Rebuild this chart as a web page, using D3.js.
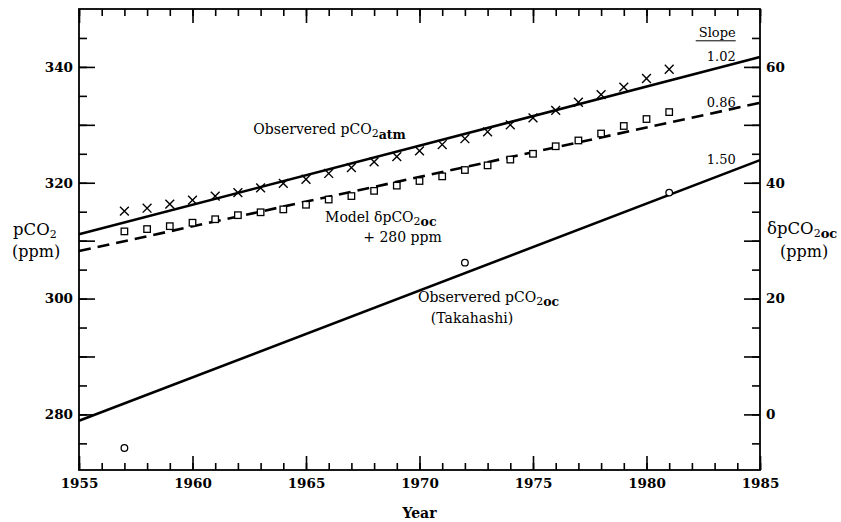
<!DOCTYPE html>
<html>
<head>
<meta charset="utf-8">
<script src="https://cdn.jsdelivr.net/npm/d3@7"></script>
<style>
  body { margin: 0; background: #fff; }
  text { font-family: "DejaVu Serif", serif; fill: #000; }
</style>
</head>
<body>
<div id="my_dataviz"></div>
<script>
// yearly points
var years = [1957, 1958, 1959, 1960, 1961, 1962, 1963, 1964, 1965, 1966, 1967, 1968, 1969,
             1970, 1971, 1972, 1973, 1974, 1975, 1976, 1977, 1978, 1979, 1980, 1981];
var atmObs = [315.1, 315.6, 316.3, 317.0, 317.7, 318.3, 319.1, 319.9, 320.6, 321.6, 322.6, 323.6, 324.5,
              325.5, 326.6, 327.6, 328.8, 330.0, 331.2, 332.5, 333.9, 335.2, 336.5, 338.0, 339.6];
var modelOc = [311.6, 312.0, 312.5, 313.1, 313.7, 314.4, 314.9, 315.4, 316.2, 317.1, 317.7, 318.6, 319.5,
               320.3, 321.1, 322.2, 323.0, 324.0, 325.0, 326.3, 327.3, 328.5, 329.8, 331.0, 332.2];
var takYears = [1957, 1972, 1981];
var takObs = [274.2, 306.2, 318.3];

// fitted lines, value at 1955 and at 1985
var fitNames = ["atm", "model", "tak"];
var fitStart = [311.1, 308.2, 278.9];
var fitEnd = [341.7, 333.8, 323.9];
var slopeLabels = ["1.02", "0.86", "1.50"];

var xTicksMajor = [1955, 1960, 1965, 1970, 1975, 1980, 1985];
var yLeftLabels = [280, 300, 320, 340];
var yRightLabels = [0, 20, 40, 60];

function visualize() {
    var W = 841, H = 522;
    var left = 79, right = 760, top = 9, bottom = 470;

    var svg = d3.select("#my_dataviz")
        .append("svg")
        .attr("width", W)
        .attr("height", H);

    var x = d3.scaleLinear().domain([1955, 1985]).range([left, right]);
    var y = d3.scaleLinear().domain([270.4, 350]).range([bottom, top]);
    var y2 = d3.scaleLinear().domain([270.4 - 280, 350 - 280]).range([bottom, top]);

    function styleAxis(g) {
        g.select(".domain").remove();
        g.selectAll("line").attr("stroke", "#000").attr("stroke-width", 1.6);
        g.selectAll("text")
            .style("font-family", "DejaVu Serif, serif")
            .style("font-weight", "bold")
            .style("font-size", "13.5px");
    }

    // x axes, bottom with labels, top ticks only
    svg.append("g").attr("transform", "translate(0," + bottom + ")")
        .call(d3.axisBottom(x).tickValues(d3.range(1955, 1986, 1)).tickSize(-7).tickFormat(""))
        .call(styleAxis);
    svg.append("g").attr("transform", "translate(0," + bottom + ")")
        .call(d3.axisBottom(x).tickValues(xTicksMajor).tickSize(-14).tickPadding(8).tickFormat(d3.format("d")))
        .call(styleAxis);
    svg.append("g").attr("transform", "translate(0," + top + ")")
        .call(d3.axisTop(x).tickValues(d3.range(1955, 1986, 1)).tickSize(-7).tickFormat(""))
        .call(styleAxis);
    svg.append("g").attr("transform", "translate(0," + top + ")")
        .call(d3.axisTop(x).tickValues(xTicksMajor).tickSize(-14).tickFormat(""))
        .call(styleAxis);

    // left axis
    svg.append("g").attr("transform", "translate(" + left + ",0)")
        .call(d3.axisLeft(y).tickValues(d3.range(275, 350, 5)).tickSize(-8).tickFormat(""))
        .call(styleAxis);
    svg.append("g").attr("transform", "translate(" + left + ",0)")
        .call(d3.axisLeft(y).tickValues(d3.range(280, 350, 10)).tickSize(-16).tickPadding(6)
            .tickFormat(function(d) { return yLeftLabels.indexOf(d) >= 0 ? d : ""; }))
        .call(styleAxis);

    // right axis
    svg.append("g").attr("transform", "translate(" + right + ",0)")
        .call(d3.axisRight(y2).tickValues(d3.range(-5, 70, 5)).tickSize(-8).tickFormat(""))
        .call(styleAxis);
    svg.append("g").attr("transform", "translate(" + right + ",0)")
        .call(d3.axisRight(y2).tickValues(d3.range(0, 70, 10)).tickSize(-16).tickPadding(6)
            .tickFormat(function(d) { return yRightLabels.indexOf(d) >= 0 ? d : ""; }))
        .call(styleAxis);

    // frame
    svg.append("rect")
        .attr("x", left).attr("y", top)
        .attr("width", right - left).attr("height", bottom - top)
        .attr("fill", "none")
        .attr("stroke", "#000")
        .attr("stroke-width", 1.8);

    // fitted lines
    var fits = fitNames.map(function(n, i) {
        return { name: n, values: [{ t: 1955, v: fitStart[i] }, { t: 1985, v: fitEnd[i] }] };
    });
    var line = d3.line()
        .x(function(d) { return x(d.t); })
        .y(function(d) { return y(d.v); });

    svg.selectAll("myLines")
        .data(fits)
        .enter()
        .append("path")
        .attr("d", function(d) { return line(d.values); })
        .attr("stroke", "#000")
        .attr("stroke-width", 2.6)
        .attr("stroke-dasharray", function(d) { return d.name == "model" ? "12,7" : null; })
        .attr("fill", "none");

    // crosses: observed atmosphere
    var cs = 4.4;
    svg.selectAll("myCross")
        .data(years)
        .enter()
        .append("path")
        .attr("d", function(d, i) {
            var cx = x(d), cy = y(atmObs[i]);
            return "M" + (cx - cs) + "," + (cy - cs) + "L" + (cx + cs) + "," + (cy + cs) +
                   "M" + (cx - cs) + "," + (cy + cs) + "L" + (cx + cs) + "," + (cy - cs);
        })
        .attr("stroke", "#000")
        .attr("stroke-width", 1.4)
        .attr("fill", "none");

    // squares: model
    var sq = 6.5;
    svg.selectAll("mySquares")
        .data(years)
        .enter()
        .append("rect")
        .attr("x", function(d) { return x(d) - sq / 2; })
        .attr("y", function(d, i) { return y(modelOc[i]) - sq / 2; })
        .attr("width", sq).attr("height", sq)
        .attr("fill", "#fff")
        .attr("stroke", "#000")
        .attr("stroke-width", 1.3);

    // circles: Takahashi
    svg.selectAll("myCircles")
        .data(takYears)
        .enter()
        .append("circle")
        .attr("cx", function(d) { return x(d); })
        .attr("cy", function(d, i) { return y(takObs[i]); })
        .attr("r", 3.3)
        .attr("fill", "#fff")
        .attr("stroke", "#000")
        .attr("stroke-width", 1.3);

    // slope column
    svg.append("text")
        .attr("x", x(1983.93)).attr("y", y(345.2))
        .attr("text-anchor", "end")
        .style("font-size", "13px")
        .text("Slope");
    svg.append("line")
        .attr("x1", x(1983.93) - 40).attr("x2", x(1983.93))
        .attr("y1", y(345.2) + 4).attr("y2", y(345.2) + 4)
        .attr("stroke", "#000").attr("stroke-width", 1);
    var slopeY = [341.0, 333.1, 323.2];
    svg.selectAll("mySlopes")
        .data(slopeLabels)
        .enter()
        .append("text")
        .attr("x", x(1983.93))
        .attr("y", function(d, i) { return y(slopeY[i]); })
        .attr("text-anchor", "end")
        .style("font-size", "13px")
        .text(function(d) { return d; });

    // annotation labels with subscripts
    function label(xp, yp, parts, size) {
        var t = svg.append("text")
            .attr("x", xp).attr("y", yp)
            .style("font-size", size + "px");
        parts.forEach(function(p) {
            var s = t.append("tspan").text(p[0]);
            if (p[1]) s.attr("dy", p[1]);
            if (p[2]) s.style("font-size", p[2] + "px");
            if (p[3]) s.style("font-weight", "bold");
        });
        return t;
    }

    label(x(1962.68), y(328.5), [["Observered pCO"], ["2", 3, 11], ["atm", 2, 12.5, true]], 14);
    label(x(1965.84), y(313.3), [["Model \u03b4pCO"], ["2", 3, 11], ["oc", 1, 12.5, true]], 14);
    label(x(1967.52), y(309.8), [["+ 280 ppm"]], 14);
    label(x(1969.93), y(299.4), [["Observered pCO"], ["2", 3, 11], ["oc", 1, 12.5, true]], 14);
    label(x(1970.5), y(295.8), [["(Takahashi)"]], 14);

    // axis titles
    label(13, 235, [["pCO"], ["2", 3, 11]], 16.5);
    label(12, 257, [["(ppm)"]], 16);
    label(767, 234, [["\u03b4pCO"], ["2", 3, 11], ["oc", 1, 13, true]], 16.5);
    label(780, 257, [["(ppm)"]], 16);

    svg.append("text")
        .attr("x", (left + right) / 2).attr("y", 518)
        .attr("text-anchor", "middle")
        .style("font-size", "14px")
        .style("font-weight", "bold")
        .text("Year");
}

visualize();
</script>
</body>
</html>
